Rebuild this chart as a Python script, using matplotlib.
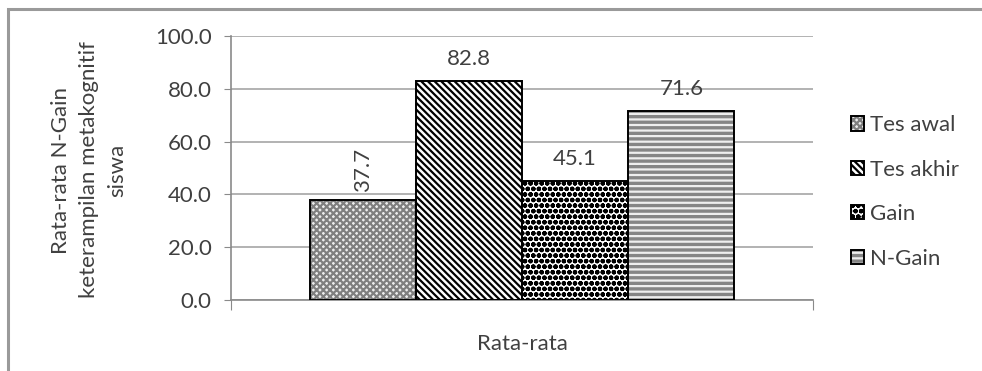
import matplotlib
matplotlib.use("Agg")
import matplotlib.pyplot as plt
from matplotlib.patches import Rectangle

# Data
series = ["Tes awal", "Tes akhir", "Gain", "N-Gain"]
values = [37.7, 82.8, 45.1, 71.6]
category = "Rata-rata"
y_ticks = [0, 20, 40, 60, 80, 100]
y_label = "Rata-rata N-Gain\nketerampilan metakognitif\nsiswa"

# Fill styles: (facecolor, hatch, hatch colour)
styles = [
    ("#ededed", "xxxxx", "#7f7f7f"),
    ("white", "\\" * 5, "black"),
    ("white", "ooo", "black"),
    ("#858585", "---", "#eeeeee"),
]

plt.rcParams["font.family"] = ["Lato", "DejaVu Sans"]
plt.rcParams["hatch.linewidth"] = 1.6

W, H = 982, 371
FS = 16
TXT = "#404040"
fig = plt.figure(figsize=(W / 100, H / 100), dpi=100)
ax = fig.add_axes([231 / W, 71 / H, 582 / W, 264 / H])

# outer frame
fig.patches.append(Rectangle((8 / W, -0.05), 1.2, (H - 9) / H + 0.05,
                             transform=fig.transFigure, fill=False,
                             edgecolor="#9a9a9a", linewidth=2.2, zorder=0))

n = len(values)
group = 0.73
w = group / n
handles = []
for i, (name, v, (fc, hatch, hc)) in enumerate(zip(series, values, styles)):
    x = (i - (n - 1) / 2) * w
    fill = ax.bar(x, v, width=w, facecolor=fc, edgecolor=hc, hatch=hatch,
                  linewidth=0, zorder=3)
    edge = ax.bar(x, v, width=w, fill=False, edgecolor="black",
                  linewidth=1.4, zorder=4)
    handles.append((fill[0], edge[0]))
    if i == 0:
        ax.annotate(f"{v:.1f}", (x, v), xytext=(0, 6), textcoords="offset points",
                    rotation=90, ha="center", va="bottom", fontsize=FS, color=TXT)
    else:
        ax.annotate(f"{v:.1f}", (x, v), xytext=(0, 16), textcoords="offset points",
                    ha="center", va="center", fontsize=FS, color=TXT)

ax.set_xlim(-0.5, 0.5)
ax.set_ylim(0, 100)
ax.set_yticks(y_ticks)
ax.set_yticklabels([f"{t:.1f}" for t in y_ticks], fontsize=FS, color=TXT)
ax.set_xticks([-0.5, 0.5])
ax.set_xticklabels(["", ""])
ax.tick_params(axis="y", direction="out", length=5, color="#8a8a8a", pad=9)
ax.tick_params(axis="x", direction="out", length=7, color="#8a8a8a")
ax.grid(axis="y", color="#a6a6a6", linewidth=1.2, zorder=0)
ax.set_axisbelow(True)
for s in ["top", "right"]:
    ax.spines[s].set_visible(False)
for s in ["left", "bottom"]:
    ax.spines[s].set_color("#8a8a8a")
    ax.spines[s].set_linewidth(1.2)

ax.set_xlabel(category, fontsize=FS, color=TXT, labelpad=14)

fig.text(89 / W, 1 - 170 / H, y_label, rotation=90, ha="center", va="center",
         multialignment="center", fontsize=FS, color=TXT, linespacing=1.5)

leg = ax.legend(handles, series, loc="center left", bbox_to_anchor=(851 / W, 1 - 192 / H),
                bbox_transform=fig.transFigure, frameon=False, fontsize=FS,
                handlelength=0.6, handleheight=0.6, handletextpad=0.25,
                labelspacing=1.1, borderaxespad=0, borderpad=0)
for t in leg.get_texts():
    t.set_color(TXT)

fig.savefig("out.png", dpi=100)
